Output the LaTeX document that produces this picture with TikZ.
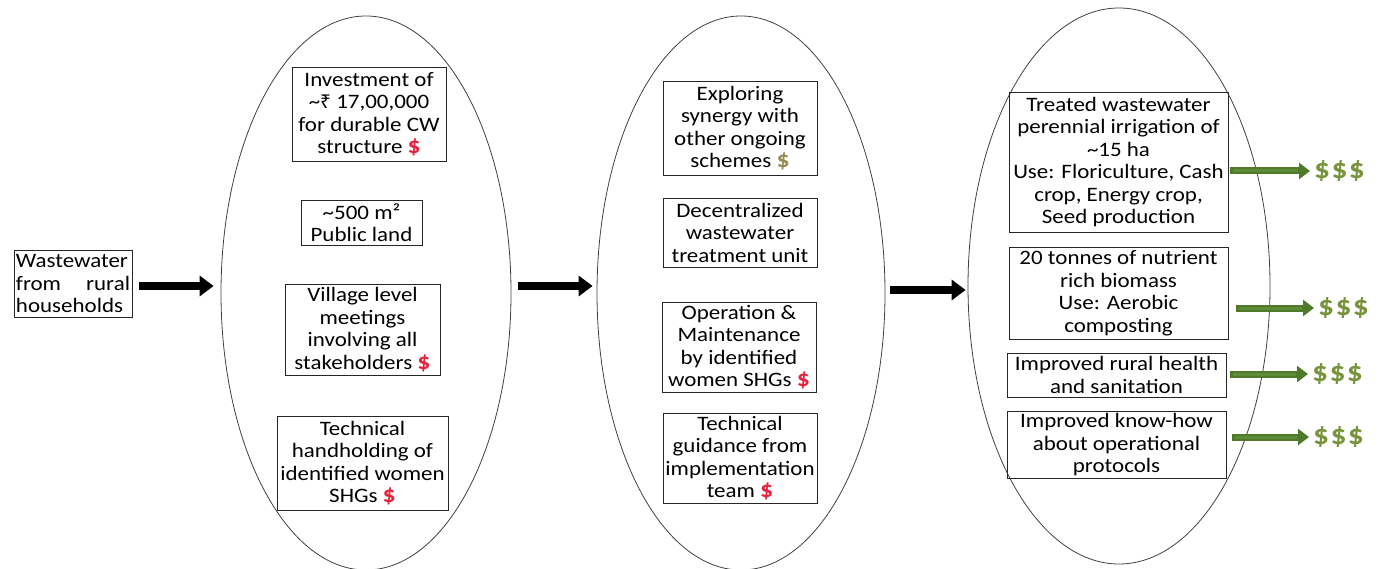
\documentclass[tikz,border=0pt]{standalone}
\usepackage{fontspec}
\setmainfont{Carlito}[FakeStretch=1.12]
\newfontfamily\rupeefont{Noto Sans}
\usetikzlibrary{arrows.meta,calc,shapes.geometric}
\definecolor{dred}{HTML}{E8213D}
\definecolor{dolive}{HTML}{948A54}
\definecolor{dgreen}{HTML}{77933C}
\definecolor{agreen}{HTML}{4E7A2A}
\definecolor{agreenl}{HTML}{5E8C36}
\newcommand\rdol{\textcolor{dred}{\bfseries\fontsize{23}{22.5}\selectfont\$}}
\newcommand\odol{\textcolor{dolive}{\bfseries\fontsize{23}{22.5}\selectfont\$}}
\begin{document}
\begin{tikzpicture}[x=1pt,y=-1pt,
  box/.style={draw=black!85, line width=0.8pt, inner sep=2pt, align=center,
    font=\fontsize{20.5}{22.5}\selectfont},
  oval/.style={draw=black!75, line width=0.8pt, ellipse, inner sep=0pt},
  blackarrow/.style={line width=8pt, -{Triangle[length=14pt,width=20pt]}},
  greenarrow/.style={line width=7pt, draw=agreen, -{Triangle[length=11pt,width=16pt]}},
  dollars/.style={text=dgreen, inner sep=0pt, anchor=west, font=\bfseries\fontsize{28}{30}\selectfont}
]
\useasboundingbox (0,0) rectangle (1380,569);

% ellipses
\node[oval, minimum width=290pt, minimum height=554pt] (e1) at (366,293) {};
\node[oval, minimum width=288pt, minimum height=554pt] (e2) at (741,293) {};
\node[oval, minimum width=302pt, minimum height=556pt] (e3) at (1119,286) {};

% input box
\node[box, align=left, text width=114pt, minimum height=67pt] (a) at (73,283.5)
  {Wastewater\\ from\hfill rural\\ households};

% ellipse 1 boxes
\node[box, minimum width=154pt, minimum height=94pt] (b1) at (369,114)
  {Investment of\\ \textasciitilde{\rupeefont\fontsize{19}{22}\selectfont ₹} 17,00,000\\ for durable CW\\ structure \rdol};
\node[box, minimum width=121pt, minimum height=45pt] (b2) at (361.5,222.5)
  {\textasciitilde 500 m²\\ Public land};
\node[box, minimum width=155pt, minimum height=91pt] (b3) at (362.5,329.5)
  {Village level\\ meetings\\ involving all\\ stakeholders \rdol};
\node[box, minimum width=171pt, minimum height=94pt] (b4) at (362.5,463)
  {Technical\\ handholding of\\ identified women\\ SHGs \rdol};

% ellipse 2 boxes
\node[box, minimum width=154pt, minimum height=94pt] (c1) at (740,128)
  {Exploring\\ synergy with\\ other ongoing\\ schemes \odol};
\node[box, minimum width=154pt, minimum height=69pt] (c2) at (740,232.5)
  {Decentralized\\ wastewater\\ treatment unit};
\node[box, minimum width=154pt, minimum height=90pt] (c3) at (739,347)
  {Operation \&\\ Maintenance\\ by identified\\ women SHGs \rdol};
\node[box, minimum width=154pt, minimum height=90pt] (c4) at (740,458)
  {Technical\\ guidance from\\ implementation\\ team \rdol};

% ellipse 3 boxes
\node[box, minimum width=219pt, minimum height=140pt] (d1) at (1118.5,162)
  {Treated wastewater\\ perennial irrigation of\\ \textasciitilde 15 ha\\ Use: Floriculture, Cash\\ crop, Energy crop,\\ Seed production};
\node[box, minimum width=219pt, minimum height=92pt] (d2) at (1118.5,293)
  {20 tonnes of nutrient\\ rich biomass\\ Use: Aerobic\\ composting};
\node[box, minimum width=219pt, minimum height=44pt] (d3) at (1116.5,375)
  {Improved rural health\\ and sanitation};
\node[box, minimum width=219pt, minimum height=66pt] (d4) at (1116.5,445)
  {Improved know-how\\ about operational\\ protocols};

% $$$ labels
\node[dollars] (s1) at (1314,171) {\$\hspace{1.5pt}\$\hspace{1.5pt}\$};
\node[dollars] (s2) at (1318,308) {\$\hspace{1.5pt}\$\hspace{1.5pt}\$};
\node[dollars] (s3) at (1312,374) {\$\hspace{1.5pt}\$\hspace{1.5pt}\$};
\node[dollars] (s4) at (1313,437) {\$\hspace{1.5pt}\$\hspace{1.5pt}\$};

% black arrows
\draw[blackarrow] ($(a.east)+(7,2.5)$) -- ($(a.east -| e1.west)+(-7,2.5)$);
\draw[blackarrow] ($(e1.east)+(7,-7)$) -- ($(e1.east -| e2.west)+(-4,-7)$);
\draw[blackarrow] ($(e2.east)+(5,-3)$) -- ($(e2.east -| e3.west)+(-2,-3)$);

% green arrows
\foreach \d/\s/\o in {d1/s1/2, d2/s2/8, d3/s3/4, d4/s4/6}{
  \draw[greenarrow] ($(\d.east |- \s.west)+(\o,0)$) -- ($(\s.west)+(-4,0)$);
  \draw[line width=3pt, draw=agreenl] ($(\d.east |- \s.west)+(\o+3,0)$) -- ($(\s.west)+(-16,0)$);
}
\end{tikzpicture}
\end{document}
